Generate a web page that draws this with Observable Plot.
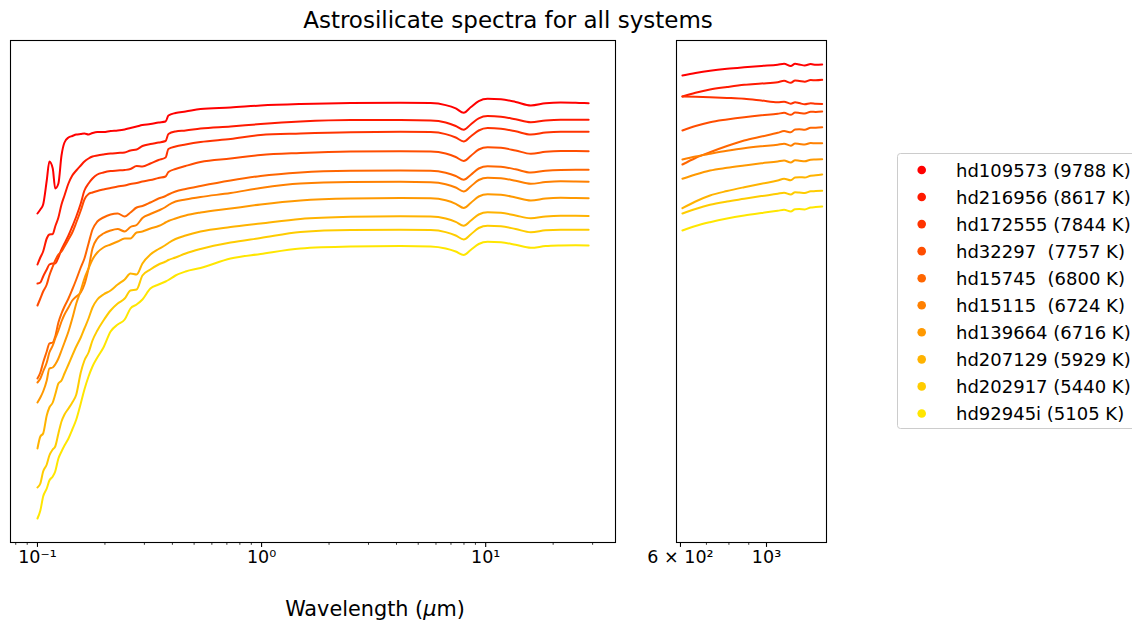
<!DOCTYPE html>
<html>
<head>
<meta charset="utf-8">
<script src="https://cdn.jsdelivr.net/npm/d3@7"></script>
<script src="https://cdn.jsdelivr.net/npm/@observablehq/plot@0.6"></script>
<style>
  html, body { margin: 0; padding: 0; background: #fff; }
  #figure { position: relative; width: 1132px; height: 621px; overflow: hidden; background: #fff; font-family: "DejaVu Sans", sans-serif; }
  #figure > svg { position: absolute; top: 0; max-width: none; }
</style>
</head>
<body>
<div id="figure"></div>
<script>
// Systems, effective temperatures and line colours (autumn ramp, hottest first)
const stars = ["hd109573", "hd216956", "hd172555", "hd32297", "hd15745", "hd15115", "hd139664", "hd207129", "hd202917", "hd92945i"];
const temperatures = [9788, 8617, 7844, 7757, 6800, 6724, 6716, 5929, 5440, 5105];
const colors = ["#ff0000", "#ff1a00", "#ff3300", "#ff4d00", "#ff6600", "#ff8000", "#ff9900", "#ffb300", "#ffcc00", "#ffe600"];

// Wavelength grids (micron): UV to mid-IR, and the sub-mm window
const wavelengthLeft = [0.1, 0.103, 0.106, 0.11, 0.113, 0.117, 0.12, 0.124, 0.128, 0.132, 0.1375, 0.143, 0.149, 0.156, 0.162, 0.169, 0.176, 0.185, 0.197, 0.212, 0.228, 0.245, 0.26, 0.277, 0.294, 0.319, 0.347, 0.373, 0.384, 0.413, 0.458, 0.534, 0.727, 0.99, 1.49, 2.5, 4.17, 5.68, 6.63, 7.35, 7.98, 8.57, 9.31, 10.2, 11.7, 13.6, 15.9, 18.5, 21.6, 25.2, 28.8];
const wavelengthRight = [607, 656, 715, 791, 876, 970, 1069, 1110, 1155, 1185, 1215, 1255, 1300, 1340, 1392];

// Axis ticks
const majorLeft = [0.1, 1, 10];
const majorLeftLabels = ["10\u207b\u00b9", "10\u2070", "10\u00b9"];
const minorLeft = [0.08, 0.09, 0.2, 0.3, 0.4, 0.5, 0.6, 0.7, 0.8, 0.9, 2, 3, 4, 5, 6, 7, 8, 9, 20, 30];
const majorRight = [600, 1000];
const majorRightLabels = ["6 \u00d7 10\u00b2", "10\u00b3"];
const minorRight = [700, 800, 900];

// Astrosilicate model spectra (offset log flux, arbitrary units)
const hd109573Left = [3.29, 3.33, 3.38, 3.62, 3.81, 3.74, 3.54, 3.59, 3.87, 4.00, 4.05, 4.065, 4.08, 4.085, 4.09, 4.08, 4.095, 4.105, 4.105, 4.115, 4.12, 4.13, 4.145, 4.16, 4.175, 4.185, 4.20, 4.21, 4.27, 4.295, 4.31, 4.335, 4.35, 4.37, 4.385, 4.395, 4.397, 4.394, 4.374, 4.341, 4.297, 4.352, 4.414, 4.437, 4.432, 4.406, 4.37, 4.392, 4.40, 4.397, 4.393];
const hd216956Left = [2.78, 2.85, 2.91, 3.04, 3.08, 3.085, 3.16, 3.25, 3.38, 3.47, 3.59, 3.67, 3.72, 3.77, 3.81, 3.84, 3.86, 3.87, 3.88, 3.89, 3.895, 3.90, 3.92, 3.93, 3.965, 3.985, 4.00, 4.015, 4.085, 4.11, 4.12, 4.14, 4.16, 4.185, 4.21, 4.225, 4.224, 4.22, 4.20, 4.165, 4.127, 4.18, 4.242, 4.264, 4.258, 4.232, 4.202, 4.22, 4.228, 4.228, 4.227];
const hd172555Left = [2.59, 2.60, 2.66, 2.73, 2.78, 2.79, 2.79, 2.85, 2.93, 2.99, 3.07, 3.16, 3.26, 3.39, 3.52, 3.59, 3.64, 3.68, 3.70, 3.715, 3.72, 3.725, 3.735, 3.765, 3.76, 3.79, 3.825, 3.85, 3.935, 3.96, 3.98, 4.005, 4.035, 4.075, 4.09, 4.103, 4.107, 4.104, 4.084, 4.05, 4.01, 4.06, 4.12, 4.144, 4.137, 4.112, 4.08, 4.10, 4.108, 4.108, 4.107];
const hd32297Left = [2.37, 2.44, 2.51, 2.58, 2.67, 2.76, 2.82, 2.88, 2.91, 2.96, 3.03, 3.10, 3.20, 3.32, 3.43, 3.485, 3.50, 3.515, 3.53, 3.545, 3.56, 3.57, 3.585, 3.595, 3.61, 3.625, 3.645, 3.66, 3.705, 3.735, 3.765, 3.805, 3.84, 3.875, 3.895, 3.91, 3.913, 3.91, 3.89, 3.855, 3.815, 3.865, 3.93, 3.953, 3.947, 3.92, 3.887, 3.907, 3.915, 3.915, 3.913];
const hd15745Left = [1.64, 1.70, 1.80, 1.91, 1.99, 2.00, 2.06, 2.20, 2.29, 2.36, 2.44, 2.53, 2.63, 2.75, 2.84, 2.99, 3.13, 3.21, 3.25, 3.28, 3.29, 3.26, 3.30, 3.35, 3.365, 3.40, 3.44, 3.465, 3.48, 3.51, 3.535, 3.565, 3.62, 3.665, 3.70, 3.717, 3.72, 3.717, 3.697, 3.665, 3.627, 3.675, 3.74, 3.763, 3.757, 3.732, 3.70, 3.717, 3.725, 3.727, 3.727];
const hd15115Left = [1.60, 1.64, 1.71, 1.80, 1.90, 1.97, 2.04, 2.12, 2.21, 2.28, 2.35, 2.42, 2.46, 2.50, 2.58, 2.74, 2.94, 3.04, 3.09, 3.12, 3.135, 3.11, 3.155, 3.175, 3.245, 3.285, 3.32, 3.355, 3.375, 3.41, 3.43, 3.455, 3.495, 3.545, 3.59, 3.605, 3.607, 3.603, 3.583, 3.55, 3.51, 3.56, 3.625, 3.648, 3.642, 3.617, 3.587, 3.604, 3.612, 3.61, 3.607];
const hd139664Left = [1.40, 1.45, 1.51, 1.62, 1.74, 1.75, 1.78, 1.84, 1.92, 2.00, 2.11, 2.24, 2.39, 2.52, 2.64, 2.74, 2.83, 2.90, 2.95, 2.98, 3.01, 3.04, 3.04, 3.10, 3.11, 3.14, 3.165, 3.20, 3.215, 3.24, 3.27, 3.30, 3.34, 3.38, 3.42, 3.44, 3.445, 3.442, 3.422, 3.387, 3.345, 3.395, 3.46, 3.482, 3.477, 3.45, 3.42, 3.44, 3.447, 3.445, 3.443];
const hd207129Left = [0.94, 1.06, 1.09, 1.27, 1.35, 1.40, 1.48, 1.59, 1.62, 1.69, 1.78, 1.87, 1.96, 2.05, 2.14, 2.24, 2.35, 2.43, 2.48, 2.52, 2.58, 2.63, 2.69, 2.68, 2.79, 2.88, 2.935, 2.975, 2.995, 3.035, 3.07, 3.11, 3.155, 3.19, 3.235, 3.257, 3.263, 3.26, 3.24, 3.207, 3.167, 3.217, 3.28, 3.302, 3.297, 3.27, 3.242, 3.26, 3.267, 3.267, 3.265];
const hd202917Left = [0.55, 0.59, 0.71, 0.78, 0.87, 0.93, 0.96, 1.09, 1.21, 1.28, 1.34, 1.40, 1.48, 1.70, 1.82, 1.90, 2.02, 2.12, 2.22, 2.32, 2.39, 2.44, 2.52, 2.53, 2.67, 2.73, 2.78, 2.81, 2.825, 2.85, 2.89, 2.935, 3.00, 3.045, 3.105, 3.125, 3.127, 3.124, 3.104, 3.07, 3.03, 3.08, 3.145, 3.168, 3.162, 3.135, 3.103, 3.122, 3.128, 3.128, 3.127];
const hd92945iLeft = [0.24, 0.32, 0.46, 0.54, 0.62, 0.66, 0.71, 0.84, 0.91, 0.97, 1.04, 1.13, 1.23, 1.39, 1.53, 1.66, 1.76, 1.85, 1.95, 2.11, 2.18, 2.23, 2.34, 2.38, 2.43, 2.54, 2.58, 2.61, 2.625, 2.67, 2.71, 2.745, 2.84, 2.885, 2.94, 2.96, 2.965, 2.96, 2.94, 2.91, 2.875, 2.925, 2.985, 3.007, 3.002, 2.977, 2.947, 2.964, 2.97, 2.972, 2.97];

const hd109573Right = [4.67, 4.695, 4.718, 4.738, 4.753, 4.766, 4.777, 4.788, 4.766, 4.787, 4.78, 4.771, 4.784, 4.778, 4.78];
const hd216956Right = [4.46, 4.497, 4.53, 4.555, 4.577, 4.59, 4.603, 4.617, 4.597, 4.62, 4.615, 4.608, 4.625, 4.622, 4.627];
const hd172555Right = [4.46, 4.457, 4.453, 4.446, 4.437, 4.42, 4.403, 4.408, 4.388, 4.402, 4.394, 4.382, 4.392, 4.387, 4.385];
const hd32297Right = [4.12, 4.165, 4.203, 4.23, 4.253, 4.272, 4.287, 4.297, 4.277, 4.299, 4.296, 4.29, 4.307, 4.306, 4.31];
const hd15745Right = [3.78, 3.845, 3.903, 3.965, 4.02, 4.06, 4.097, 4.114, 4.102, 4.13, 4.132, 4.128, 4.147, 4.148, 4.153];
const hd15115Right = [3.83, 3.86, 3.887, 3.917, 3.943, 3.962, 3.977, 3.988, 3.968, 3.99, 3.986, 3.98, 3.995, 3.992, 3.993];
const hd139664Right = [3.637, 3.68, 3.72, 3.747, 3.77, 3.792, 3.81, 3.82, 3.80, 3.822, 3.818, 3.812, 3.828, 3.83, 3.833];
const hd207129Right = [3.343, 3.41, 3.47, 3.515, 3.553, 3.588, 3.62, 3.638, 3.622, 3.65, 3.653, 3.65, 3.668, 3.672, 3.68];
const hd202917Right = [3.29, 3.335, 3.377, 3.41, 3.437, 3.464, 3.487, 3.498, 3.48, 3.503, 3.50, 3.495, 3.512, 3.514, 3.517];
const hd92945iRight = [3.12, 3.165, 3.203, 3.24, 3.27, 3.295, 3.317, 3.327, 3.31, 3.333, 3.334, 3.331, 3.35, 3.354, 3.36];

const leftSpectra = [hd109573Left, hd216956Left, hd172555Left, hd32297Left, hd15745Left, hd15115Left, hd139664Left, hd207129Left, hd202917Left, hd92945iLeft];
const rightSpectra = [hd109573Right, hd216956Right, hd172555Right, hd32297Right, hd15745Right, hd15115Right, hd139664Right, hd207129Right, hd202917Right, hd92945iRight];

function tidy(grid, spectra) {
  const rows = [];
  spectra.forEach((flux, i) => {
    const n = Math.min(grid.length, flux.length);
    for (let k = 0; k < n; k++) rows.push({star: stars[i], wavelength: grid[k], flux: flux[k]});
  });
  return rows;
}
const leftRows = tidy(wavelengthLeft, leftSpectra);
const rightRows = tidy(wavelengthRight, rightSpectra);

const labelOf = (ticks, labels) => d => {
  const i = ticks.findIndex(t => Math.abs(t - d) / t < 1e-6);
  return i < 0 ? "" : labels[i];
};

const common = {
  height: 621,
  marginTop: 40,
  marginBottom: 79,
  y: {domain: [0, 5.02], axis: null},
  color: {domain: stars, range: colors},
  style: {fontFamily: "DejaVu Sans, sans-serif", fontSize: "17.5px", color: "#000", background: "transparent", overflow: "visible"}
};

function panel(rows, domain, major, majorLabels, minor, width, marginLeft, marginRight) {
  return Plot.plot({
    ...common,
    width, marginLeft, marginRight,
    x: {type: "log", domain, label: null},
    marks: [
      Plot.line(rows, {x: "wavelength", y: "flux", z: "star", stroke: "star", strokeWidth: 2, curve: "monotone-x"}),
      Plot.frame({stroke: "#000", strokeWidth: 1.1}),
      Plot.axisX({ticks: major, tickFormat: labelOf(major, majorLabels), tickSize: 4.9, tickPadding: 3, strokeWidth: 1.1, label: null, fontSize: 17.5}),
      Plot.axisX({ticks: minor, tickFormat: () => "", tickSize: 2.8, strokeWidth: 0.8, label: null})
    ]
  });
}

const fig = document.getElementById("figure");

const leftPanel = panel(leftRows, [0.0758, 37.95], majorLeft, majorLeftLabels, minorLeft, 620, 10, 5);
leftPanel.style.left = "0px";
fig.appendChild(leftPanel);

const rightPanel = panel(rightRows, [586, 1428], majorRight, majorRightLabels, minorRight, 210, 46, 14);
rightPanel.style.left = "630px";
fig.appendChild(rightPanel);

// Title, axis label and legend
const svgNS = "http://www.w3.org/2000/svg";
const overlay = document.createElementNS(svgNS, "svg");
overlay.setAttribute("width", 1132);
overlay.setAttribute("height", 621);
overlay.style.left = "0px";
overlay.style.pointerEvents = "none";
overlay.style.fontFamily = "DejaVu Sans, sans-serif";
fig.appendChild(overlay);

function addText(x, y, str, size, anchor) {
  const t = document.createElementNS(svgNS, "text");
  t.setAttribute("x", x);
  t.setAttribute("y", y);
  t.setAttribute("font-size", size);
  t.setAttribute("text-anchor", anchor || "start");
  t.setAttribute("fill", "#000");
  t.setAttribute("xml:space", "preserve");
  t.style.whiteSpace = "pre";
  t.textContent = str;
  overlay.appendChild(t);
  return t;
}

addText(508, 28, "Astrosilicate spectra for all systems", 23, "middle");

const xlab = addText(375, 616, "", 20.8, "middle");
const t1 = document.createElementNS(svgNS, "tspan"); t1.textContent = "Wavelength (";
const t2 = document.createElementNS(svgNS, "tspan"); t2.textContent = "\u03bc"; t2.setAttribute("font-style", "italic");
const t3 = document.createElementNS(svgNS, "tspan"); t3.textContent = "m)";
xlab.append(t1, t2, t3);

const box = document.createElementNS(svgNS, "rect");
box.setAttribute("x", 897.5); box.setAttribute("y", 153.5);
box.setAttribute("width", 260); box.setAttribute("height", 275);
box.setAttribute("rx", 3);
box.setAttribute("fill", "#fff"); box.setAttribute("fill-opacity", 0.8);
box.setAttribute("stroke", "#cccccc"); box.setAttribute("stroke-width", 1);
overlay.appendChild(box);

stars.forEach((s, i) => {
  const cy = 170 + i * 27.05;
  const c = document.createElementNS(svgNS, "circle");
  c.setAttribute("cx", 921.7); c.setAttribute("cy", cy); c.setAttribute("r", 4.3);
  c.setAttribute("fill", colors[i]);
  overlay.appendChild(c);
  addText(956, cy + 6.5, s.padEnd(8, " ") + " (" + temperatures[i] + " K)", 18, "start");
});
</script>
</body>
</html>
